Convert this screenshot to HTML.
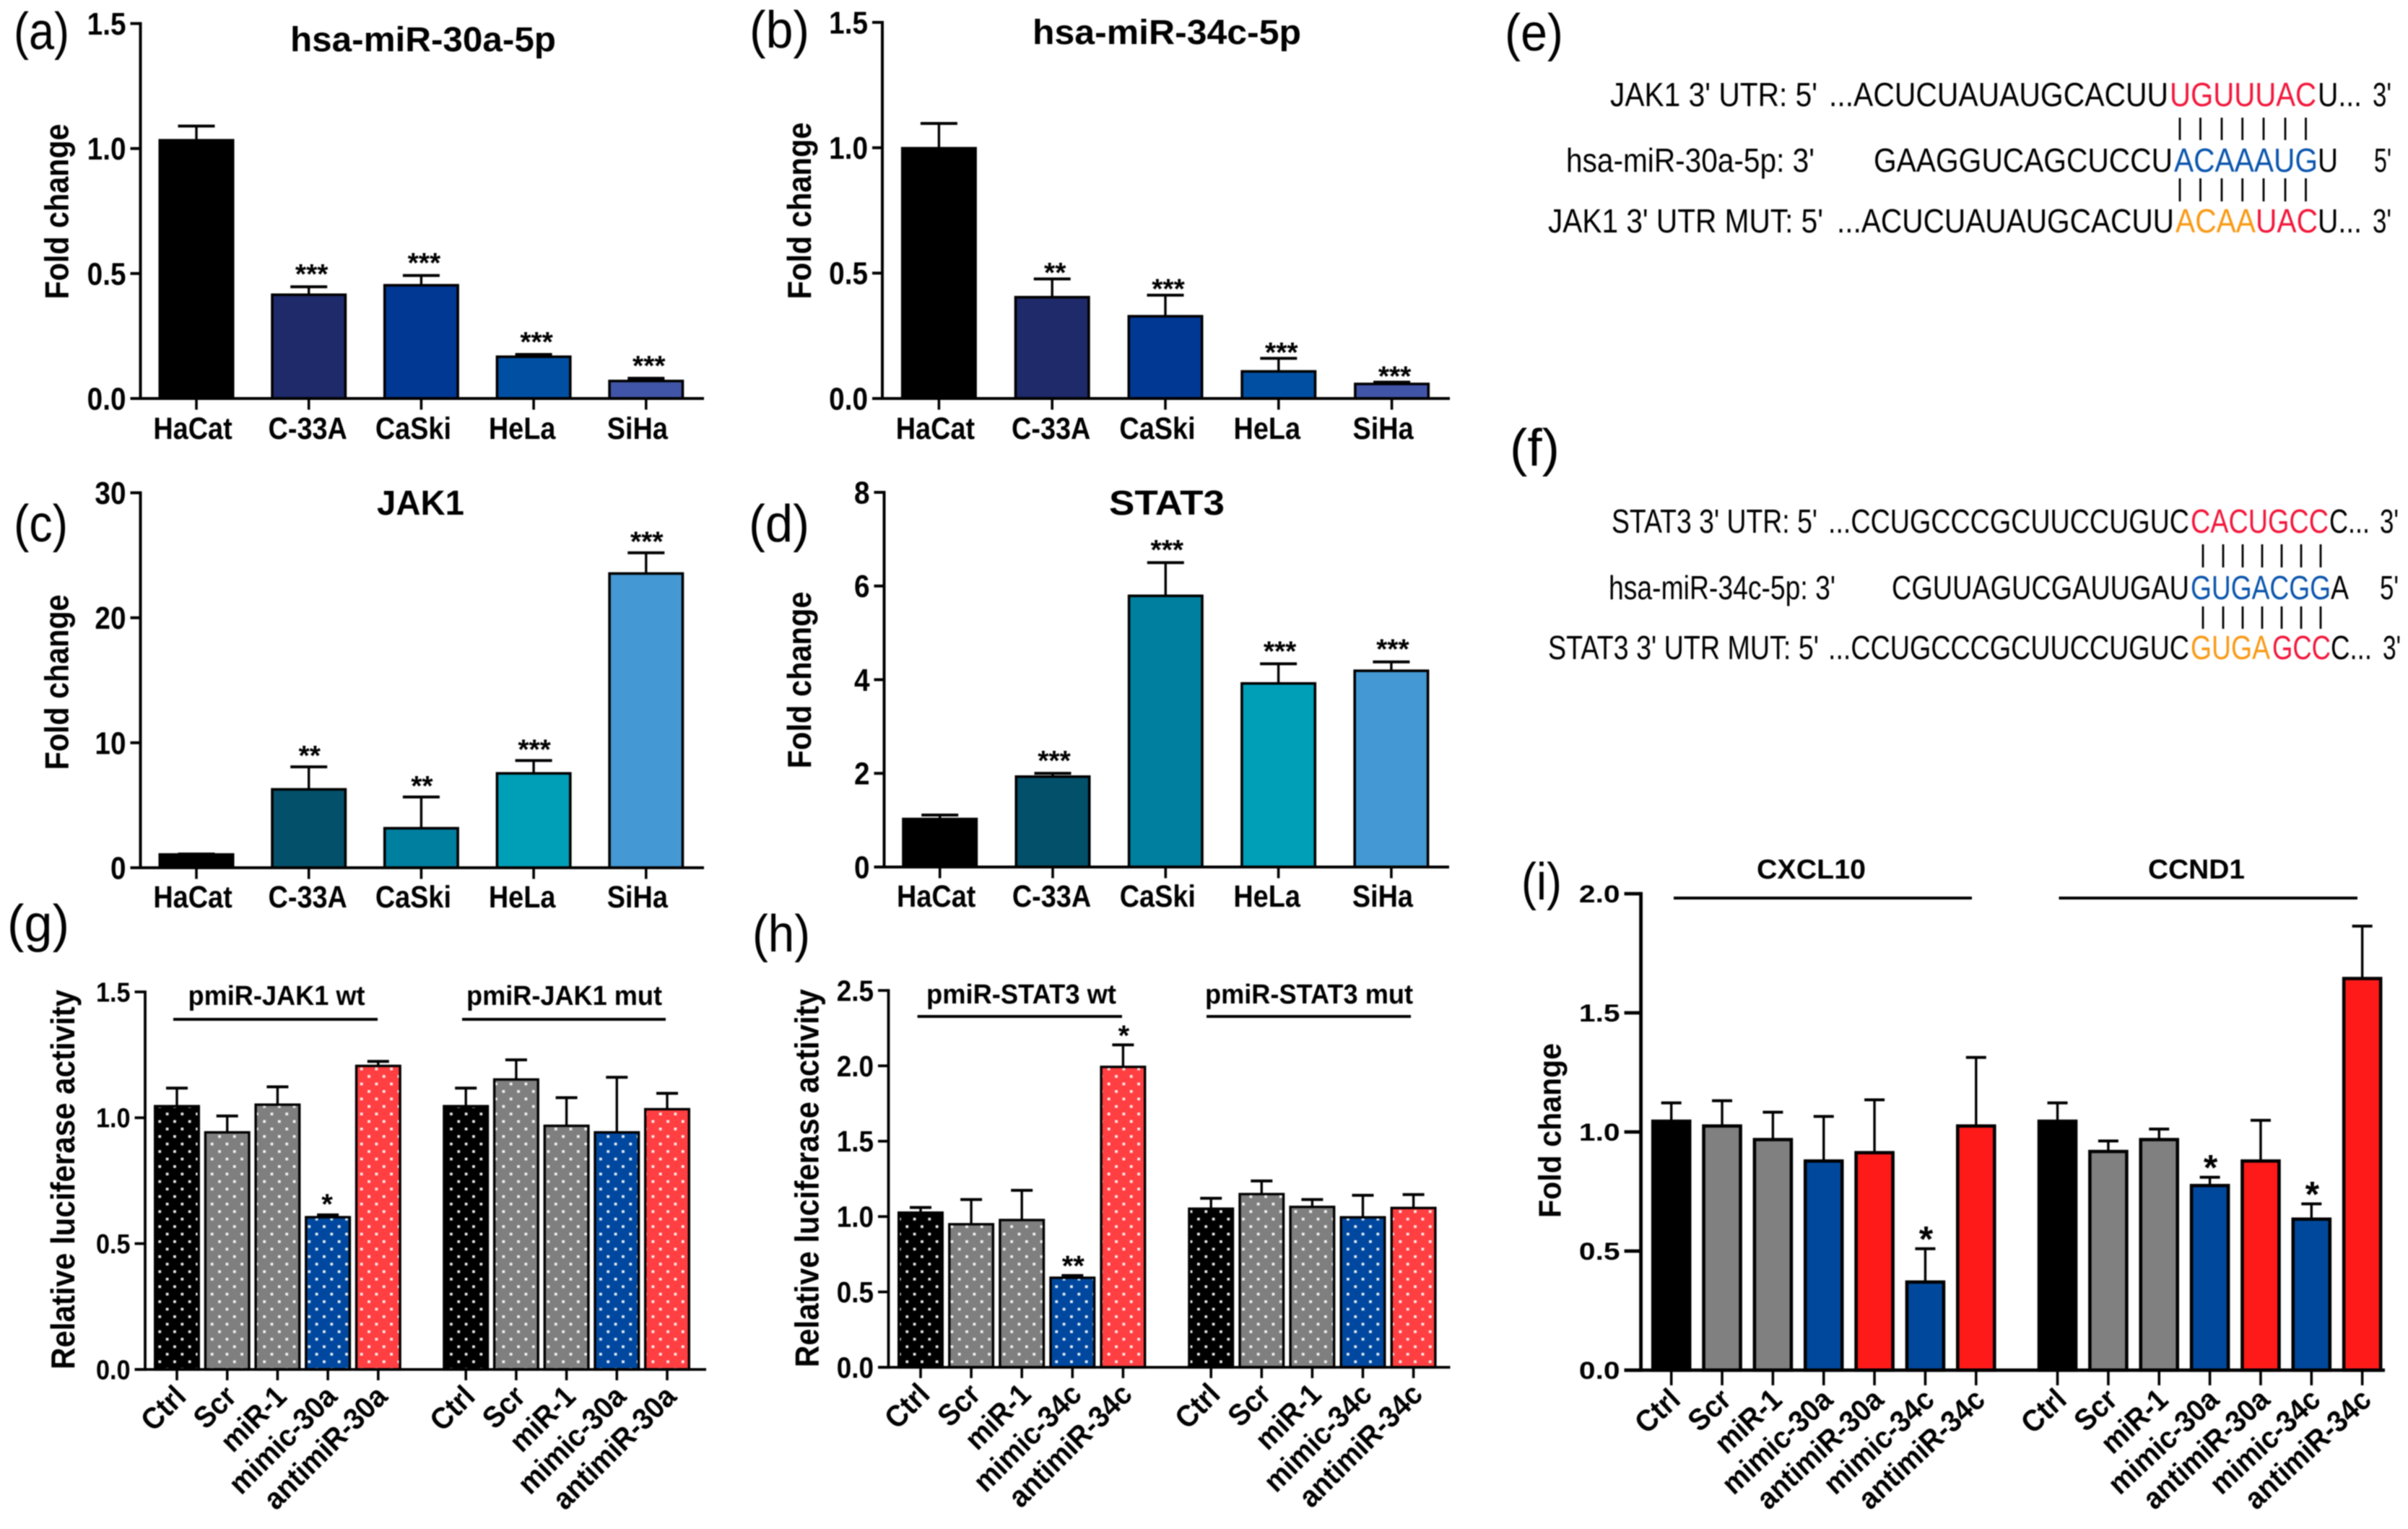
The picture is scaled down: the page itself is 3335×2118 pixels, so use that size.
<!DOCTYPE html>
<html lang="en">
<head>
<meta charset="utf-8">
<title>miRNA expression and luciferase figure</title>
<style>
html,body{margin:0;padding:0;background:#fff;width:3335px;height:2118px;overflow:hidden}
svg{display:block;filter:blur(.7px)}
text{font-family:"Liberation Sans",sans-serif;fill:#000}
.panel-tag{font-size:72px}
.seq{font-size:46px}
.red{fill:#f2183c}.blue{fill:#0b55ad}.orange{fill:#f99a16}
.pair{stroke:#000;stroke-width:2.8}
</style>
</head>
<body>
<svg id="fig" xmlns="http://www.w3.org/2000/svg" width="3335" height="2118" viewBox="0 0 3335 2118">
<defs>
<pattern id="dots" patternUnits="userSpaceOnUse" width="20.7" height="20.8">
<rect x="2" y="2" width="3.8" height="3.8" fill="#fff" fill-opacity=".9"/>
<rect x="12.35" y="12.4" width="3.8" height="3.8" fill="#fff" fill-opacity=".9"/>
</pattern>
</defs>
<rect width="3335" height="2118" fill="#fff"/>

<text class="panel-tag" x="19" y="68" textLength="77" lengthAdjust="spacingAndGlyphs">(a)</text>
<text class="panel-tag" x="1038" y="66" textLength="83" lengthAdjust="spacingAndGlyphs">(b)</text>
<text class="panel-tag" x="19" y="750" textLength="75" lengthAdjust="spacingAndGlyphs">(c)</text>
<text class="panel-tag" x="1037" y="750" textLength="84" lengthAdjust="spacingAndGlyphs">(d)</text>
<text class="panel-tag" x="2084" y="70" textLength="81" lengthAdjust="spacingAndGlyphs">(e)</text>
<text class="panel-tag" x="2091" y="645" textLength="69" lengthAdjust="spacingAndGlyphs">(f)</text>
<text class="panel-tag" x="10" y="1304" textLength="86" lengthAdjust="spacingAndGlyphs">(g)</text>
<text class="panel-tag" x="1042" y="1318" textLength="80" lengthAdjust="spacingAndGlyphs">(h)</text>
<text class="panel-tag" x="2107" y="1246" textLength="56" lengthAdjust="spacingAndGlyphs">(i)</text>

<g>
<text class="seq" x="2230" y="147" textLength="287" lengthAdjust="spacingAndGlyphs">JAK1 3' UTR: 5'</text>
<text class="seq" x="2533" y="147" textLength="470" lengthAdjust="spacingAndGlyphs">...ACUCUAUAUGCACUU</text>
<text class="seq red" x="3005" y="147" textLength="203" lengthAdjust="spacingAndGlyphs">UGUUUAC</text>
<text class="seq" x="3210" y="147" textLength="61" lengthAdjust="spacingAndGlyphs">U...</text>
<text class="seq" x="3286" y="147" textLength="26" lengthAdjust="spacingAndGlyphs">3'</text>
<g class="pair">
<line x1="3019" x2="3019" y1="163" y2="194"/><line x1="3047.5" x2="3047.5" y1="163" y2="194"/><line x1="3077" x2="3077" y1="163" y2="194"/><line x1="3105.7" x2="3105.7" y1="163" y2="194"/><line x1="3135" x2="3135" y1="163" y2="194"/><line x1="3165" x2="3165" y1="163" y2="194"/><line x1="3193.5" x2="3193.5" y1="163" y2="194"/>
</g>
<text class="seq" x="2169" y="238" textLength="344" lengthAdjust="spacingAndGlyphs">hsa-miR-30a-5p: 3'</text>
<text class="seq" x="2595" y="238" textLength="414" lengthAdjust="spacingAndGlyphs">GAAGGUCAGCUCCU</text>
<text class="seq blue" x="3011" y="238" textLength="199" lengthAdjust="spacingAndGlyphs">ACAAAUG</text>
<text class="seq" x="3210" y="238" textLength="28" lengthAdjust="spacingAndGlyphs">U</text>
<text class="seq" x="3288" y="238" textLength="24" lengthAdjust="spacingAndGlyphs">5'</text>
<g class="pair">
<line x1="3019" x2="3019" y1="247" y2="279"/><line x1="3047.5" x2="3047.5" y1="247" y2="279"/><line x1="3077" x2="3077" y1="247" y2="279"/><line x1="3105.7" x2="3105.7" y1="247" y2="279"/><line x1="3135" x2="3135" y1="247" y2="279"/><line x1="3165" x2="3165" y1="247" y2="279"/><line x1="3193.5" x2="3193.5" y1="247" y2="279"/>
</g>
<text class="seq" x="2144" y="322" textLength="381" lengthAdjust="spacingAndGlyphs">JAK1 3' UTR MUT: 5'</text>
<text class="seq" x="2544" y="322" textLength="467" lengthAdjust="spacingAndGlyphs">...ACUCUAUAUGCACUU</text>
<text class="seq orange" x="3013" y="322" textLength="111" lengthAdjust="spacingAndGlyphs">ACAA</text>
<text class="seq red" x="3124" y="322" textLength="86" lengthAdjust="spacingAndGlyphs">UAC</text>
<text class="seq" x="3210" y="322" textLength="61" lengthAdjust="spacingAndGlyphs">U...</text>
<text class="seq" x="3286" y="322" textLength="26" lengthAdjust="spacingAndGlyphs">3'</text>
</g>

<g>
<text class="seq" x="2232" y="738" textLength="285" lengthAdjust="spacingAndGlyphs">STAT3 3' UTR: 5'</text>
<text class="seq" x="2532" y="738" textLength="500" lengthAdjust="spacingAndGlyphs">...CCUGCCCGCUUCCUGUC</text>
<text class="seq red" x="3034" y="738" textLength="191" lengthAdjust="spacingAndGlyphs">CACUGCC</text>
<text class="seq" x="3226" y="738" textLength="56" lengthAdjust="spacingAndGlyphs">C...</text>
<text class="seq" x="3296" y="738" textLength="26" lengthAdjust="spacingAndGlyphs">3'</text>
<g class="pair">
<line x1="3051" x2="3051" y1="754" y2="786"/><line x1="3079" x2="3079" y1="754" y2="786"/><line x1="3106" x2="3106" y1="754" y2="786"/><line x1="3133" x2="3133" y1="754" y2="786"/><line x1="3160" x2="3160" y1="754" y2="786"/><line x1="3187" x2="3187" y1="754" y2="786"/><line x1="3214" x2="3214" y1="754" y2="786"/>
</g>
<text class="seq" x="2228" y="830" textLength="314" lengthAdjust="spacingAndGlyphs">hsa-miR-34c-5p: 3'</text>
<text class="seq" x="2620" y="830" textLength="412" lengthAdjust="spacingAndGlyphs">CGUUAGUCGAUUGAU</text>
<text class="seq blue" x="3034" y="830" textLength="194" lengthAdjust="spacingAndGlyphs">GUGACGG</text>
<text class="seq" x="3228" y="830" textLength="25" lengthAdjust="spacingAndGlyphs">A</text>
<text class="seq" x="3296" y="830" textLength="26" lengthAdjust="spacingAndGlyphs">5'</text>
<g class="pair">
<line x1="3051" x2="3051" y1="840" y2="871"/><line x1="3079" x2="3079" y1="840" y2="871"/><line x1="3106" x2="3106" y1="840" y2="871"/><line x1="3133" x2="3133" y1="840" y2="871"/><line x1="3160" x2="3160" y1="840" y2="871"/><line x1="3187" x2="3187" y1="840" y2="871"/><line x1="3214" x2="3214" y1="840" y2="871"/>
</g>
<text class="seq" x="2144" y="913" textLength="375" lengthAdjust="spacingAndGlyphs">STAT3 3' UTR MUT: 5'</text>
<text class="seq" x="2532" y="913" textLength="500" lengthAdjust="spacingAndGlyphs">...CCUGCCCGCUUCCUGUC</text>
<text class="seq orange" x="3034" y="913" textLength="110" lengthAdjust="spacingAndGlyphs">GUGA</text>
<text class="seq red" x="3147" y="913" textLength="81" lengthAdjust="spacingAndGlyphs">GCC</text>
<text class="seq" x="3228" y="913" textLength="57" lengthAdjust="spacingAndGlyphs">C...</text>
<text class="seq" x="3300" y="913" textLength="25" lengthAdjust="spacingAndGlyphs">3'</text>
</g>
</svg>

<script>
// ---- chart data ----
const cellLines = ['HaCat','C-33A','CaSki','HeLa','SiHa'];

const valuesA = [1.033,0.415,0.453,0.167,0.07];
const errorsA = [0.057,0.032,0.039,0.009,0.011];
const starsA  = ['','***','***','***','***'];
const ticksA  = ['0.0','0.5','1.0','1.5'];

const valuesB = [0.998,0.404,0.328,0.108,0.058];
const errorsB = [0.099,0.073,0.084,0.052,0.007];
const starsB  = ['','**','***','***','***'];
const ticksB  = ['0.0','0.5','1.0','1.5'];

const valuesC = [1.06,6.27,3.16,7.55,23.54];
const errorsC = [0.04,1.8,2.5,1.03,1.66];
const starsC  = ['','**','**','***','***'];
const ticksC  = ['0','10','20','30'];

const valuesD = [1.025,1.93,5.79,3.92,4.19];
const errorsD = [0.085,0.07,0.71,0.42,0.19];
const starsD  = ['','***','***','***','***'];
const ticksD  = ['0','2','4','6','8'];

const treatments30a = ['Ctrl','Scr','miR-1','mimic-30a','antimiR-30a','Ctrl','Scr','miR-1','mimic-30a','antimiR-30a'];
const valuesG = [1.046,0.942,1.052,0.605,1.206,1.046,1.152,0.968,0.942,1.034];
const errorsG = [0.072,0.065,0.071,0.009,0.018,0.072,0.078,0.112,0.219,0.063];
const starsG  = ['','','','*','','','','','',''];
const ticksG  = ['0.0','0.5','1.0','1.5'];

const treatments34c = ['Ctrl','Scr','miR-1','mimic-34c','antimiR-34c','Ctrl','Scr','miR-1','mimic-34c','antimiR-34c'];
const valuesH = [1.026,0.949,0.977,0.594,1.993,1.052,1.149,1.064,0.995,1.057];
const errorsH = [0.034,0.164,0.197,0.015,0.146,0.069,0.087,0.049,0.146,0.089];
const starsH  = ['','','','**','*','','','','',''];
const ticksH  = ['0.0','0.5','1.0','1.5','2.0','2.5'];

const treatmentsI = ['Ctrl','Scr','miR-1','mimic-30a','antimiR-30a','mimic-34c','antimiR-34c','Ctrl','Scr','miR-1','mimic-30a','antimiR-30a','mimic-34c','antimiR-34c'];
const valuesI = [1.045,1.025,0.968,0.878,0.913,0.37,1.025,1.045,0.918,0.968,0.775,0.878,0.634,1.644];
const errorsI = [0.077,0.106,0.115,0.187,0.222,0.14,0.288,0.077,0.044,0.044,0.035,0.171,0.064,0.22];
const starsI  = ['','','','','','*','','','','','*','','*',''];
const ticksI  = ['0.0','0.5','1.0','1.5','2.0'];

// ---- styling ----
const blues = ['#000000','#1f2a6a','#003893','#004fa3','#4155a8'];
const teals = ['#000000','#03506a','#007f9f','#009fb8','#4498d3'];
const luc   = ['#000000','#7f7f7f','#7f7f7f','#00489f','#ff3f42','#000000','#7f7f7f','#7f7f7f','#00489f','#ff3f42'];
const qpcr  = ['#000000','#808080','#808080','#00489c','#ff1a1a','#00489c','#ff1a1a','#000000','#808080','#808080','#00489c','#ff1a1a','#00489c','#ff1a1a'];
const cellLabelShift = [-5,-1.5,-11,-16,-12];

const cellStyle = {barW:105,capW:51,barSW:3.6,axisW:4,tickLenY:14,tickLenX:15.5,tickFont:44,tickSX:0.88,catFont:43,catSX:0.88,starFont:39,groupSize:99,groupGap:0};
const lucStyle  = {barW:64,capW:30,barSW:3.4,axisW:3.8,tickLenY:14.5,tickLenX:15,catFont:42,catSX:0.93,starFont:40,groupSize:5,groupGap:51.7,dotted:true};
const qStyle    = {barW:55.6,capW:28,barSW:4.6,axisW:4.8,tickLenY:23,tickLenX:21,tickFont:34,tickSX:1.2,catFont:42,catSX:0.93,starFont:50,groupSize:7,groupGap:42.4};

const panels = [
 Object.assign({id:'a',cats:cellLines,vals:valuesA,errs:errorsA,stars:starsA,ticks:ticksA,colors:blues,yMax:1.5,axisX:194.5,yTop:32.6,y0:552,x0:272,step:155.7,xEnd:975,gap:26,starDx:4,catY:608,shift:cellLabelShift,
  yTitle:{text:'Fold change',x:94.5,y:293,len:243,size:46},title:{text:'hsa-miR-30a-5p',x:586,y:71,len:368,size:48}},cellStyle),
 Object.assign({id:'b',cats:cellLines,vals:valuesB,errs:errorsB,stars:starsB,ticks:ticksB,colors:blues,yMax:1.5,axisX:1222,yTop:31,y0:552,x0:1300.4,step:156.8,xEnd:2008,gap:17,starDx:4,catY:608,shift:cellLabelShift,
  yTitle:{text:'Fold change',x:1123,y:292,len:245,size:46},title:{text:'hsa-miR-34c-5p',x:1616,y:61,len:372,size:48}},cellStyle),
 Object.assign({id:'c',cats:cellLines,vals:valuesC,errs:errorsC,stars:starsC,ticks:ticksC,colors:teals,yMax:30,axisX:194.5,yTop:682.6,y0:1202,x0:272,step:155.7,xEnd:975,gap:24,starDx:1,catY:1257,shift:cellLabelShift,
  yTitle:{text:'Fold change',x:94.5,y:945,len:243,size:46},title:{text:'JAK1',x:582.5,y:713,len:121,size:48}},cellStyle),
 Object.assign({id:'d',cats:cellLines,vals:valuesD,errs:errorsD,stars:starsD,ticks:ticksD,colors:teals,yMax:8,axisX:1224.5,yTop:682,y0:1201,x0:1301.7,step:156.3,xEnd:2007,gap:26,starDx:2,catY:1256,shift:cellLabelShift,
  yTitle:{text:'Fold change',x:1123,y:942,len:245,size:46},title:{text:'STAT3',x:1616,y:713,len:160,size:48}},cellStyle),
 Object.assign({id:'g',cats:treatments30a,vals:valuesG,errs:errorsG,stars:starsG,ticks:ticksG,colors:luc,yMax:1.5,axisX:201,yTop:1374,y0:1897,x0:245,step:69.7,xEnd:978,gap:24,starDx:-1,tickFont:38,tickSX:0.9,rotate:-45,catEndDx:15,catEndY:1937,
  yTitle:{text:'Relative luciferase activity',x:103,y:1634,len:526,size:46},
  groups:[{text:'pmiR-JAK1 wt',x:383,y:1392,len:245,size:38,x1:240,x2:523,ly:1412},{text:'pmiR-JAK1 mut',x:781.5,y:1392,len:271,size:38,x1:640,x2:922,ly:1412}]},lucStyle),
 Object.assign({id:'h',cats:treatments34c,vals:valuesH,errs:errorsH,stars:starsH,ticks:ticksH,colors:luc,yMax:2.5,axisX:1230.5,yTop:1372,y0:1894,x0:1275,step:70.1,xEnd:2008.5,gap:22,starDx:1,tickFont:41,tickSX:0.9,rotate:-45,catEndDx:15,catEndY:1934,
  yTitle:{text:'Relative luciferase activity',x:1133.5,y:1632,len:524,size:46},
  groups:[{text:'pmiR-STAT3 wt',x:1414.5,y:1390,len:263,size:38,x1:1270.6,x2:1554,ly:1408},{text:'pmiR-STAT3 mut',x:1813,y:1390,len:288,size:38,x1:1671,x2:1954,ly:1408}]},lucStyle),
 Object.assign({id:'i',cats:treatmentsI,vals:valuesI,errs:errorsI,stars:starsI,ticks:ticksI,colors:qpcr,yMax:2,axisX:2272.6,yTop:1238,y0:1898,x0:2314.7,step:70.35,xEnd:3303,gap:24,starDx:1,rotate:-43,catEndDx:15,catEndY:1942,
  yTitle:{text:'Fold change',x:2161.5,y:1566,len:242,size:44},
  groups:[{text:'CXCL10',x:2508.5,y:1217,len:151,size:38,x1:2318,x2:2731,ly:1244},{text:'CCND1',x:3042,y:1217,len:134,size:38,x1:2851.5,x2:3265,ly:1244}]},qStyle)
];

// ---- drawing ----
const NS = 'http://www.w3.org/2000/svg';
const fig = document.getElementById('fig');
function mk(tag, attrs, parent, txt){
  const el = document.createElementNS(NS, tag);
  for (const k in attrs) el.setAttribute(k, attrs[k]);
  if (txt !== undefined) el.textContent = txt;
  parent.appendChild(el);
  return el;
}
function yScale(p, v){ return p.y0 - (v / p.yMax) * (p.y0 - p.yTop); }
function xScale(p, i){ return p.x0 + i * p.step + (i >= p.groupSize ? p.groupGap : 0); }

function drawPanel(p){
  const g = mk('g', {}, fig);
  
  

  p.vals.forEach(function(v, i){
    const cx = xScale(p, i), yV = yScale(p, v), yE = yScale(p, v + p.errs[i]);
    const stem = mk('line', {x1:cx,x2:cx,y1:yV,y2:yE,stroke:'#000','stroke-width':3.4}, g);
    
    
    const cap = mk('line', {x1:cx-p.capW/2,x2:cx+p.capW/2,y1:yE,y2:yE,stroke:'#000','stroke-width':4}, g);
    
    
    const w = p.barW - p.barSW;
    const bar = mk('rect', {x:cx-w/2,y:yV,width:w,height:p.y0-yV,fill:p.colors[i],stroke:'#000','stroke-width':p.barSW}, g);
    
    
    if (p.dotted){
      const dots = mk('rect', {x:cx-w/2+p.barSW/2,y:yV+p.barSW/2,width:w-p.barSW,height:p.y0-yV-p.barSW/2,fill:'url(#dots)'}, g);
      
      
    }
    if (p.stars[i]){
      const s = mk('text', {x:cx+p.starDx,y:yE-p.gap+0.56*p.starFont,'text-anchor':'middle','font-size':p.starFont,'font-weight':'bold'}, g, p.stars[i]);
      
      
    }
  });

  const yAxis = mk('line', {x1:p.axisX,x2:p.axisX,y1:p.yTop-p.axisW/2,y2:p.y0+p.axisW/2,stroke:'#000','stroke-width':p.axisW}, g);
  
  
  const xAxis = mk('line', {x1:p.axisX-p.tickLenY,x2:p.xEnd,y1:p.y0,y2:p.y0,stroke:'#000','stroke-width':p.axisW}, g);
  
  

  p.ticks.forEach(function(t){
    const y = yScale(p, parseFloat(t));
    const tk = mk('line', {x1:p.axisX-p.tickLenY,x2:p.axisX,y1:y,y2:y,stroke:'#000','stroke-width':p.axisW}, g);
    
    
    const lb = mk('text', {transform:'translate(' + (p.axisX-p.tickLenY-6) + ',' + (y+0.35*p.tickFont) + ') scale(' + p.tickSX + ',1)','text-anchor':'end','font-size':p.tickFont,'font-weight':'bold'}, g, t);
    
    
  });

  p.cats.forEach(function(c, i){
    const cx = xScale(p, i);
    const tk = mk('line', {x1:cx,x2:cx,y1:p.y0,y2:p.y0+p.tickLenX,stroke:'#000','stroke-width':3.6}, g);
    
    
    let lb;
    if (p.rotate){
      const ex = cx + p.catEndDx;
      lb = mk('text', {transform:'translate(' + ex + ',' + p.catEndY + ') rotate(' + p.rotate + ') scale(' + p.catSX + ',1)','text-anchor':'end','font-size':p.catFont,'font-weight':'bold'}, g, c);
    } else {
      lb = mk('text', {transform:'translate(' + (cx+p.shift[i]) + ',' + p.catY + ') scale(' + p.catSX + ',1)','text-anchor':'middle','font-size':p.catFont,'font-weight':'bold'}, g, c);
    }
    
    
  });

  const yt = mk('text', {transform:'translate(' + p.yTitle.x + ',' + p.yTitle.y + ') rotate(-90)','text-anchor':'middle','font-size':p.yTitle.size,'font-weight':'bold',textLength:p.yTitle.len,lengthAdjust:'spacingAndGlyphs'}, g, p.yTitle.text);
  
  

  if (p.title){
    const tt = mk('text', {x:p.title.x,y:p.title.y,'text-anchor':'middle','font-size':p.title.size,'font-weight':'bold',textLength:p.title.len,lengthAdjust:'spacingAndGlyphs'}, g, p.title.text);
    
    
  }
  (p.groups || []).forEach(function(gr, k){
    const gt = mk('text', {x:gr.x,y:gr.y,'text-anchor':'middle','font-size':gr.size,'font-weight':'bold',textLength:gr.len,lengthAdjust:'spacingAndGlyphs'}, g, gr.text);
    
    
    const gl = mk('line', {x1:gr.x1,x2:gr.x2,y1:gr.ly,y2:gr.ly,stroke:'#000','stroke-width':4}, g);
    
    
  });
}
panels.forEach(drawPanel);
</script>
</body>
</html>
